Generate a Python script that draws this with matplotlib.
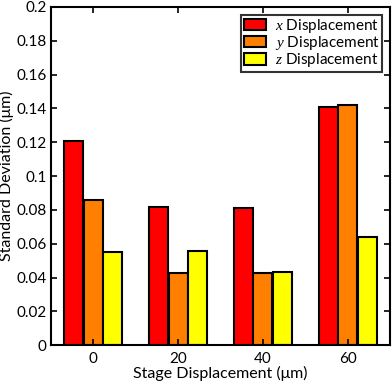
import matplotlib
matplotlib.use('Agg')
import matplotlib.pyplot as plt
import numpy as np

plt.rcParams['font.family'] = ['Lato', 'DejaVu Sans']
plt.rcParams['mathtext.fontset'] = 'custom'
plt.rcParams['mathtext.it'] = 'Liberation Serif:italic'
plt.rcParams['mathtext.rm'] = 'Lato'

# data
stage = [0, 20, 40, 60]
x_disp = [0.121, 0.0815, 0.081, 0.141]
y_disp = [0.086, 0.0425, 0.0425, 0.142]
z_disp = [0.055, 0.056, 0.0435, 0.064]

series = [x_disp, y_disp, z_disp]
labels = ['$x$ Displacement', '$y$ Displacement', '$z$ Displacement']
colors = ['#ff0000', '#ff8000', '#ffff00']

fig = plt.figure(figsize=(3.92, 3.82), dpi=100)
ax = fig.add_axes([0.130, 0.096, 0.865, 0.886])

w = 4.45
offs = [-4.6, 0, 4.6]
pos = np.array(stage, dtype=float)
for vals, lab, c, o in zip(series, labels, colors, offs):
    ax.bar(pos + o, vals, width=w, color=c, edgecolor='black',
           linewidth=1.5, label=lab)

ax.set_xlim(-10, 70)
ax.set_ylim(0, 0.2)
ax.set_xticks(stage)
ax.set_yticks(np.arange(0, 0.201, 0.02))
ax.set_yticklabels(['0', '0.02', '0.04', '0.06', '0.08', '0.1', '0.12',
                    '0.14', '0.16', '0.18', '0.2'])
ax.tick_params(direction='in', top=True, right=True, labelsize=11,
               length=4, width=1.2, pad=3)
ax.tick_params(axis='x', pad=5)
for s in ax.spines.values():
    s.set_linewidth(1.5)

ax.set_xlabel('Stage Displacement (\u03bcm)', fontsize=11.5, labelpad=0)
ax.set_ylabel('Standard Deviation (\u03bcm)', fontsize=11.5)
ax.yaxis.set_label_coords(-0.11, 0.5)

leg = ax.legend(loc='upper right', fontsize=11, frameon=True, fancybox=False,
                edgecolor='black', borderpad=0.15, handlelength=1.45,
                handleheight=0.75, handletextpad=0.6, labelspacing=-0.05,
                borderaxespad=0.5)
leg.get_frame().set_linewidth(1.5)
for p in leg.get_patches():
    p.set_linewidth(1.5)

plt.savefig('out.png', dpi=100)
